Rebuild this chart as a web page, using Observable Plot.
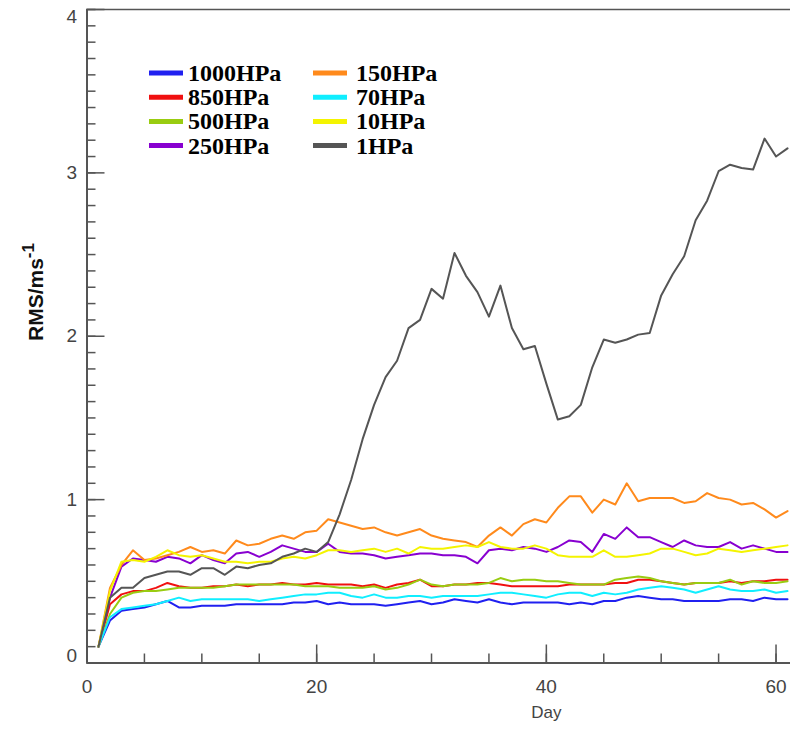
<!DOCTYPE html>
<html><head><meta charset="utf-8">
<script src="https://cdn.jsdelivr.net/npm/d3@7"></script>
<script src="https://cdn.jsdelivr.net/npm/@observablehq/plot@0.6"></script>
<style>body{margin:0;background:#fff} #chart{width:790px;height:731px}</style>
</head><body><div id="chart"></div>
<script>
const days = [1,2,3,4,5,6,7,8,9,10,11,12,13,14,15,16,17,18,19,20,21,22,23,24,25,26,27,28,29,30,31,32,33,34,35,36,37,38,39,40,41,42,43,44,45,46,47,48,49,50,51,52,53,54,55,56,57,58,59,60,61];
const levels = ["1000HPa","850HPa","500HPa","250HPa","150HPa","70HPa","10HPa","1HPa"];
const colors = ["#2020f0","#f01010","#99cc11","#8800d0","#ff8a1c","#10eeff","#f4f400","#555555"];

const rms1000 = [0.10,0.26,0.32,0.33,0.34,0.36,0.38,0.34,0.34,0.35,0.35,0.35,0.36,0.36,0.36,0.36,0.36,0.37,0.37,0.38,0.36,0.37,0.36,0.36,0.36,0.35,0.36,0.37,0.38,0.36,0.37,0.39,0.38,0.37,0.39,0.37,0.36,0.37,0.37,0.37,0.37,0.36,0.37,0.36,0.38,0.38,0.40,0.41,0.40,0.39,0.39,0.38,0.38,0.38,0.38,0.39,0.39,0.38,0.40,0.39,0.39];
const rms850 = [0.10,0.36,0.42,0.44,0.44,0.46,0.49,0.47,0.46,0.46,0.47,0.47,0.48,0.47,0.48,0.48,0.49,0.48,0.48,0.49,0.48,0.48,0.48,0.47,0.48,0.46,0.48,0.49,0.51,0.47,0.47,0.48,0.48,0.49,0.49,0.48,0.47,0.47,0.47,0.47,0.47,0.48,0.48,0.48,0.48,0.49,0.49,0.51,0.51,0.50,0.49,0.48,0.49,0.49,0.49,0.50,0.49,0.50,0.50,0.51,0.51];
const rms500 = [0.10,0.30,0.40,0.43,0.44,0.44,0.45,0.46,0.46,0.46,0.46,0.47,0.48,0.48,0.48,0.48,0.48,0.48,0.47,0.47,0.47,0.46,0.46,0.46,0.47,0.45,0.46,0.48,0.51,0.48,0.47,0.48,0.48,0.48,0.49,0.52,0.50,0.51,0.51,0.50,0.50,0.49,0.48,0.48,0.48,0.51,0.52,0.53,0.52,0.50,0.49,0.48,0.49,0.49,0.49,0.51,0.48,0.50,0.49,0.49,0.50];
const rms250 = [0.10,0.40,0.59,0.64,0.63,0.62,0.65,0.64,0.61,0.66,0.63,0.61,0.67,0.68,0.65,0.68,0.72,0.70,0.68,0.68,0.73,0.68,0.67,0.67,0.66,0.64,0.65,0.66,0.67,0.67,0.66,0.66,0.65,0.61,0.69,0.70,0.69,0.71,0.70,0.68,0.71,0.75,0.74,0.68,0.79,0.76,0.83,0.77,0.77,0.74,0.71,0.75,0.72,0.71,0.71,0.74,0.70,0.72,0.70,0.68,0.68];
const rms150 = [0.10,0.46,0.60,0.69,0.63,0.64,0.66,0.68,0.71,0.68,0.69,0.67,0.75,0.72,0.73,0.76,0.78,0.76,0.80,0.81,0.88,0.86,0.84,0.82,0.83,0.80,0.78,0.80,0.82,0.78,0.76,0.75,0.74,0.71,0.78,0.83,0.78,0.85,0.88,0.86,0.95,1.02,1.02,0.92,1.00,0.97,1.10,0.99,1.01,1.01,1.01,0.98,0.99,1.04,1.01,1.00,0.97,0.98,0.94,0.89,0.93];
const rms70 = [0.10,0.28,0.33,0.34,0.35,0.36,0.38,0.40,0.38,0.39,0.39,0.39,0.39,0.39,0.38,0.39,0.40,0.41,0.42,0.42,0.43,0.43,0.41,0.40,0.42,0.40,0.40,0.41,0.41,0.40,0.41,0.41,0.41,0.41,0.42,0.43,0.43,0.42,0.41,0.40,0.42,0.43,0.43,0.41,0.43,0.42,0.43,0.45,0.46,0.47,0.46,0.45,0.43,0.45,0.47,0.45,0.44,0.44,0.45,0.43,0.44];
const rms10 = [0.10,0.44,0.62,0.63,0.62,0.65,0.69,0.66,0.65,0.66,0.64,0.62,0.62,0.61,0.62,0.62,0.64,0.65,0.64,0.66,0.69,0.69,0.68,0.69,0.70,0.68,0.70,0.67,0.71,0.70,0.70,0.71,0.72,0.71,0.74,0.71,0.70,0.70,0.72,0.70,0.66,0.65,0.65,0.65,0.69,0.65,0.65,0.66,0.67,0.70,0.70,0.68,0.66,0.67,0.70,0.69,0.68,0.69,0.70,0.71,0.72];
const rms1 = [0.10,0.40,0.46,0.46,0.52,0.54,0.56,0.56,0.54,0.58,0.58,0.54,0.59,0.58,0.60,0.61,0.65,0.67,0.70,0.68,0.74,0.91,1.12,1.37,1.58,1.75,1.85,2.05,2.10,2.29,2.23,2.51,2.37,2.27,2.12,2.31,2.05,1.92,1.94,1.71,1.49,1.51,1.58,1.81,1.98,1.96,1.98,2.01,2.02,2.25,2.38,2.49,2.71,2.83,3.01,3.05,3.03,3.02,3.21,3.10,3.15];

const xMajor = [0,20,40,60];
const xMinor = [0,5,10,15,20,25,30,35,40,45,50,55,60];
const yMajor = [0,1,2,3,4];
const yMinor = [0,0.1,0.2,0.3,0.4,0.5,0.6,0.7,0.8,0.9,1,1.1,1.2,1.3,1.4,1.5,1.6,1.7,1.8,1.9,2,2.1,2.2,2.3,2.4,2.5,2.6,2.7,2.8,2.9,3,3.1,3.2,3.3,3.4,3.5,3.6,3.7,3.8,3.9,4];

const series = [rms1000, rms850, rms500, rms250, rms150, rms70, rms10, rms1];
const rows = levels.flatMap((lev, i) => days.map((d, j) => ({day: d, rms: series[i][j], level: lev})));

const tickFont = "Liberation Sans, Arial, sans-serif";
const axisColor = "#555";
const intFmt = d => String(d);

const chart = Plot.plot({
  width: 790,
  height: 731,
  marginLeft: 86.5,
  marginRight: 0,
  marginTop: 9,
  marginBottom: 68.5,
  style: {background: "#fff", fontFamily: tickFont},
  x: {domain: [0, 61.26]},
  y: {domain: [0, 4]},
  color: {domain: levels, range: colors},
  marks: [
    Plot.lineY(rows, {x: "day", y: "rms", z: "level", stroke: "level", strokeWidth: 2, strokeLinejoin: "round"}),
    Plot.ruleX([0], {stroke: axisColor, strokeWidth: 2}),
    Plot.ruleY([0], {stroke: axisColor, strokeWidth: 2}),
    Plot.ruleY([4], {stroke: axisColor, strokeWidth: 1.5}),
    Plot.axisX({ticks: xMinor, tickSize: -9, text: null, stroke: axisColor, strokeWidth: 1.5, label: null}),
    Plot.axisX({ticks: xMajor, tickSize: -18, text: null, stroke: axisColor, strokeWidth: 1.5, label: null}),
    Plot.axisX({ticks: xMajor, tickSize: 0, tickPadding: 16, fontSize: 19, fill: "#444", tickFormat: intFmt, label: null}),
    Plot.axisY({ticks: yMinor, tickSize: -9, text: null, stroke: axisColor, strokeWidth: 1.5, label: null}),
    Plot.axisY({ticks: yMajor, tickSize: -18, text: null, stroke: axisColor, strokeWidth: 1.5, label: null}),
    Plot.axisY({ticks: [1, 2, 3], tickSize: 0, tickPadding: 10, fontSize: 19, fill: "#444", tickFormat: intFmt, label: null}),
    Plot.axisY({ticks: [0], tickSize: 0, tickPadding: 10, dy: -7, fontSize: 19, fill: "#444", tickFormat: intFmt, label: null}),
    Plot.axisY({ticks: [4], tickSize: 0, tickPadding: 10, dy: 7, fontSize: 19, fill: "#444", tickFormat: intFmt, label: null}),
    Plot.text(["Day"], {x: 40, frameAnchor: "bottom", dy: 55, fontSize: 17, fill: "#444", text: d => d})
  ]
});

const svg = d3.select(chart);

// y-axis title with superscript
const yt = svg.append("text")
  .attr("transform", "translate(43,292) rotate(-90)")
  .attr("text-anchor", "middle")
  .attr("font-family", tickFont)
  .attr("font-weight", "bold")
  .attr("font-size", 21)
  .attr("fill", "#111");
yt.append("tspan").text("RMS/ms");
yt.append("tspan").attr("dy", -9).attr("font-size", 17).text("-1");

// legend
const legend = svg.append("g").attr("text-anchor", "start");
levels.forEach((lev, i) => {
  const col = i < 4 ? 0 : 1;
  const row = i % 4;
  const ry = 73 + row * 24.2;
  const sx = [149, 313][col];
  legend.append("line")
    .attr("x1", sx).attr("x2", sx + 34)
    .attr("y1", ry).attr("y2", ry)
    .attr("stroke", colors[i]).attr("stroke-width", 5);
  legend.append("text")
    .attr("x", [188, 356][col]).attr("y", ry + 8)
    .attr("text-anchor", "start")
    .attr("font-family", "Liberation Serif, Times New Roman, serif")
    .attr("font-weight", "bold")
    .attr("font-size", 24)
    .attr("fill", "#000")
    .text(lev);
});

document.getElementById("chart").appendChild(chart);
</script>
</body></html>
